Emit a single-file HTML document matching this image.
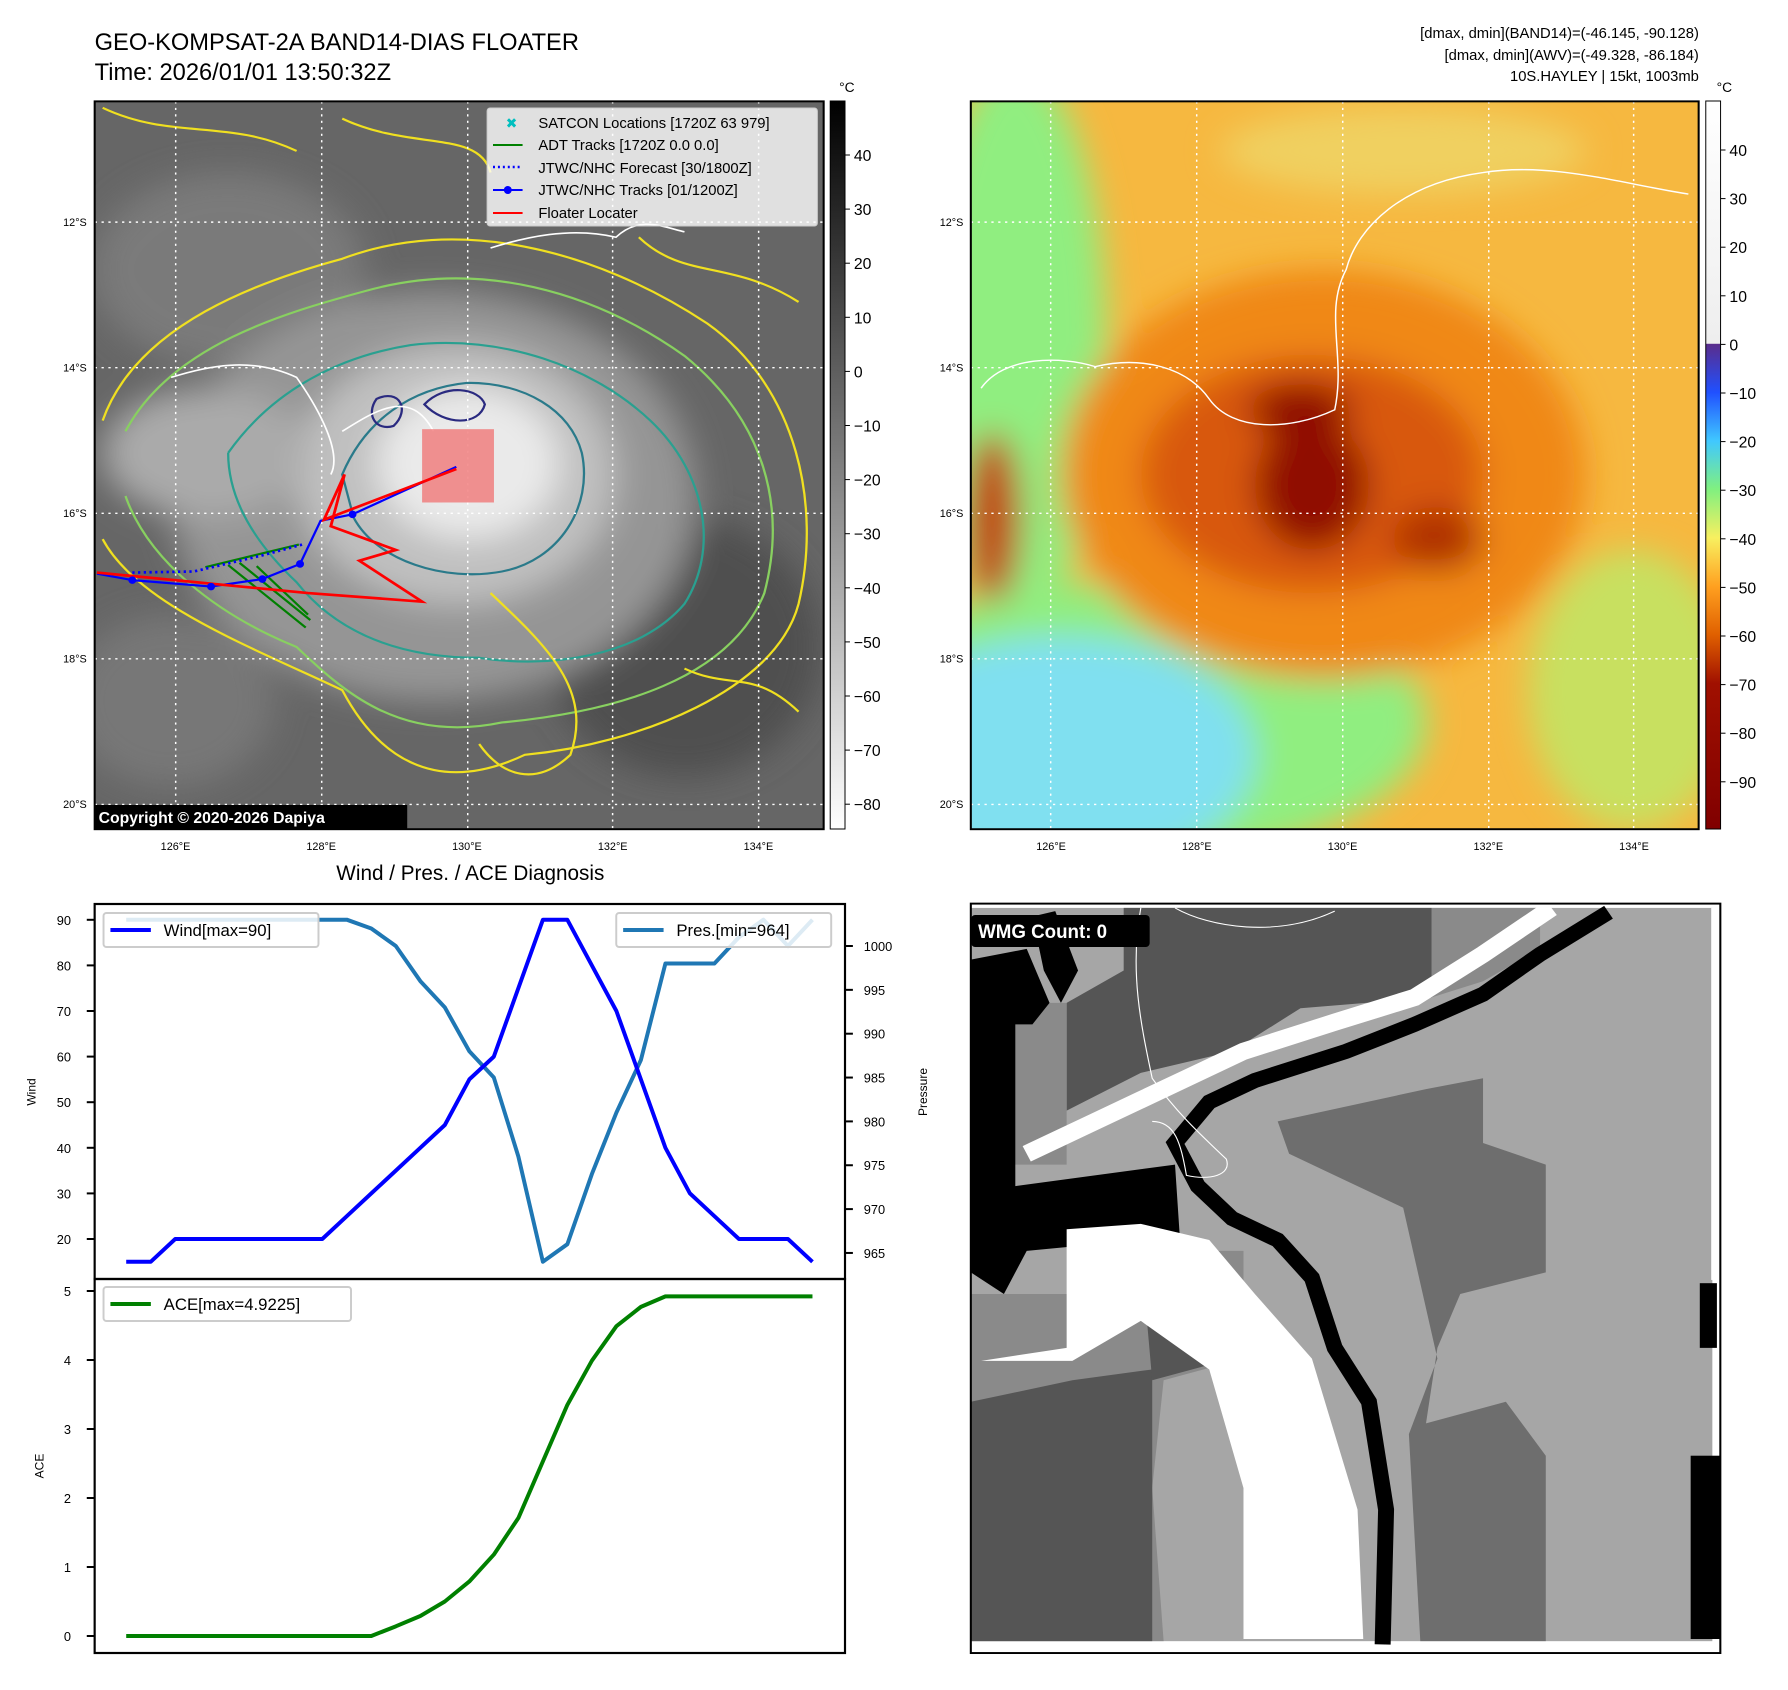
<!DOCTYPE html>
<html><head><meta charset="utf-8"><style>
html,body{margin:0;padding:0;background:#fff;}
svg{display:block;font-family:"Liberation Sans","DejaVu Sans",sans-serif;}
</style></head><body>
<svg id="fig" width="1788" height="1690" viewBox="0 0 1788 1690" xmlns="http://www.w3.org/2000/svg">
<defs>
<filter id="blur15"><feGaussianBlur stdDeviation="15"/></filter>
<clipPath id="clipL"><rect x="83" y="94" width="639" height="675"/></clipPath>
<clipPath id="clipR"><rect x="851" y="94" width="638" height="675"/></clipPath>
<clipPath id="clipB"><rect x="851" y="838" width="657" height="695"/></clipPath>
<linearGradient id="cb1" x1="0" y1="0" x2="0" y2="1"><stop offset="0" stop-color="#000"/><stop offset="1" stop-color="#fff"/></linearGradient>
<linearGradient id="cb2" x1="0" y1="0" x2="0" y2="1">
<stop offset="0" stop-color="#ffffff"/><stop offset="0.333" stop-color="#eeeeee"/>
<stop offset="0.334" stop-color="#5a2d8c"/><stop offset="0.4" stop-color="#2050ff"/>
<stop offset="0.467" stop-color="#40c8ff"/><stop offset="0.533" stop-color="#80f080"/>
<stop offset="0.6" stop-color="#f8f060"/><stop offset="0.667" stop-color="#ffa020"/>
<stop offset="0.733" stop-color="#e06000"/><stop offset="0.8" stop-color="#a01000"/>
<stop offset="1" stop-color="#800000"/></linearGradient>
</defs>
<g transform="scale(0.986,1)">
<g transform="matrix(1.157,0,0,1.0783,0,0)">
 <g clip-path="url(#clipL)">
  <rect x="83" y="94" width="639" height="675" fill="#666"/>
  <g filter="url(#blur15)">
   <ellipse cx="200" cy="250" rx="120" ry="90" fill="#7a7a7a"/>
   <ellipse cx="600" cy="600" rx="120" ry="120" fill="#505050"/>
   <ellipse cx="150" cy="650" rx="90" ry="80" fill="#777"/>
   <ellipse cx="380" cy="460" rx="230" ry="190" fill="#959595"/>
   <ellipse cx="400" cy="440" rx="140" ry="120" fill="#c0c0c0"/>
   <ellipse cx="410" cy="430" rx="80" ry="70" fill="#eaeaea"/>
   <ellipse cx="180" cy="420" rx="90" ry="60" fill="#aaa"/>
  </g>
  <g fill="none" stroke-width="2">
   <path d="M90 390 C120 300 230 260 300 240 C400 200 520 230 620 300 C700 360 720 470 700 560 C680 640 560 690 460 700 C380 740 330 700 300 640 C220 600 120 560 90 500" stroke="#f0e020"/>
   <path d="M110 400 C150 320 250 290 320 270 C420 240 520 270 600 330 C670 390 690 470 670 550 C640 630 540 660 440 670 C350 690 300 640 260 600 C190 570 130 520 110 460" stroke="#88d060"/>
   <path d="M200 420 C240 360 300 330 360 320 C440 310 520 340 570 390 C620 440 630 510 600 560 C560 610 480 620 420 610 C340 610 290 580 260 540 C220 500 200 460 200 420" stroke="#2aa090"/>
   <path d="M300 440 C320 390 360 360 410 355 C460 355 500 380 510 420 C520 470 490 520 440 530 C390 540 330 520 310 480 Z" stroke="#2a7a8a"/>
   <path d="M330 370 C350 360 360 380 345 395 C330 400 320 385 330 370 Z M372 375 C390 355 420 360 425 375 C420 395 390 395 372 375 Z" stroke="#2a2a80"/>
   <path d="M90 100 C150 130 200 110 260 140 M300 110 C360 140 420 120 430 160 M560 220 C600 260 640 240 700 280 M600 620 C640 640 660 620 700 660" stroke="#f0e020"/>
   <path d="M430 550 C480 600 520 640 500 700 C470 730 440 720 420 690" stroke="#f0e020"/>
  </g>
  <g stroke="#fff" stroke-width="1.5" fill="none">
   <path d="M150 350 C180 340 220 330 260 350 C280 380 300 420 290 440 M300 400 C330 380 360 360 380 400 M430 230 C460 220 500 210 540 220 C560 200 580 210 600 215"/>
  </g>
  <g stroke="#fff" stroke-width="1.3" stroke-dasharray="2,4">
   <line x1="83" y1="206" x2="722" y2="206"/><line x1="83" y1="341" x2="722" y2="341"/>
   <line x1="83" y1="476" x2="722" y2="476"/><line x1="83" y1="611" x2="722" y2="611"/>
   <line x1="83" y1="746" x2="722" y2="746"/>
   <line x1="154" y1="94" x2="154" y2="769"/><line x1="282" y1="94" x2="282" y2="769"/>
   <line x1="410" y1="94" x2="410" y2="769"/><line x1="537" y1="94" x2="537" y2="769"/>
   <line x1="665" y1="94" x2="665" y2="769"/>
  </g>
  <rect x="370" y="398" width="63" height="68" fill="#f07070" opacity="0.75"/>
  <g fill="none" stroke-width="2">
   <path d="M200,524 L268,582 M210,522 L272,575 M180,526 L262,505 M225,525 L270,570" stroke="#008000"/>
   <polyline points="116,531 170,530 230,515 265,505" stroke="#0000ff" stroke-dasharray="2,3" stroke-width="2.5"/>
   <polyline points="85,532 116,538 185,544 230,537 263,523 281,483 309,477 400,433" stroke="#0000ff"/>
   <polyline points="85,531 270,550 370,558 315,520 347,510 290,488 302,440 284,482 400,435" stroke="#ff0000" stroke-width="2.5"/>
  </g>
  <g fill="#0000ff"><circle cx="116" cy="538" r="3.5"/><circle cx="185" cy="544" r="3.5"/><circle cx="230" cy="537" r="3.5"/><circle cx="263" cy="523" r="3.5"/><circle cx="309" cy="477" r="3.5"/></g>
 </g>
 <rect x="83" y="94" width="639" height="675" fill="none" stroke="#000" stroke-width="1.8"/>

 <g clip-path="url(#clipR)">
  <rect x="851" y="94" width="638" height="675" fill="#f6b840"/>
  <g filter="url(#blur15)">
   <ellipse cx="890" cy="320" rx="80" ry="260" fill="#90ee80"/>
   <ellipse cx="1430" cy="640" rx="90" ry="130" fill="#c8e060"/>
   <ellipse cx="990" cy="670" rx="260" ry="130" fill="#90ee80"/>
   <ellipse cx="930" cy="700" rx="170" ry="110" fill="#80e0f0"/>
   <ellipse cx="1230" cy="140" rx="160" ry="40" fill="#f0d060"/>
   <ellipse cx="1160" cy="440" rx="230" ry="190" fill="#f08818"/>
   <ellipse cx="1150" cy="440" rx="150" ry="110" fill="#d85808"/>
   <ellipse cx="1150" cy="450" rx="50" ry="60" fill="#900800"/>
   <ellipse cx="1140" cy="380" rx="45" ry="25" fill="#900800"/>
   <ellipse cx="1260" cy="500" rx="40" ry="30" fill="#b03000"/>
   <ellipse cx="870" cy="480" rx="25" ry="80" fill="#c04000"/>
  </g>
  <g stroke="#fff" stroke-width="1.3" fill="none">
   <path d="M860 360 C880 330 930 330 960 340 C1000 330 1040 340 1060 370 C1080 400 1130 400 1170 380 C1180 330 1160 290 1180 250 C1190 210 1230 170 1300 160 C1360 150 1420 170 1480 180"/>
  </g>
  <g stroke="#fff" stroke-width="1.3" stroke-dasharray="2,4">
   <line x1="851" y1="206" x2="1489" y2="206"/><line x1="851" y1="341" x2="1489" y2="341"/>
   <line x1="851" y1="476" x2="1489" y2="476"/><line x1="851" y1="611" x2="1489" y2="611"/>
   <line x1="851" y1="746" x2="1489" y2="746"/>
   <line x1="921" y1="94" x2="921" y2="769"/><line x1="1049" y1="94" x2="1049" y2="769"/>
   <line x1="1177" y1="94" x2="1177" y2="769"/><line x1="1305" y1="94" x2="1305" y2="769"/>
   <line x1="1432" y1="94" x2="1432" y2="769"/>
  </g>
 </g>
 <rect x="851" y="94" width="638" height="675" fill="none" stroke="#000" stroke-width="1.8"/>

 <g clip-path="url(#clipB)">
  <rect x="851" y="838" width="657" height="695" fill="#fff"/>
  <rect x="851" y="842" width="650" height="680" fill="#a6a6a6"/>
  <polygon points="985,842 1255,842 1255,925 1140,935 1080,975 1000,995 935,1030 935,930 985,900" fill="#555"/>
  <polygon points="1255,842 1350,842 1350,880 1300,910 1255,925" fill="#8a8a8a"/>
  <polygon points="851,930 935,930 935,1080 851,1080" fill="#8a8a8a"/>
  <polygon points="1120,1040 1250,1010 1300,1000 1300,1060 1355,1080 1355,1180 1280,1200 1260,1250 1250,1320 1320,1300 1355,1350 1355,1522 1245,1522 1235,1330 1260,1260 1230,1120 1170,1090 1130,1070" fill="#6e6e6e"/>
  <polygon points="851,1200 1000,1200 1000,1160 1090,1160 1090,1260 1020,1280 1010,1380 1020,1522 851,1522" fill="#8a8a8a"/>
  <polygon points="851,1300 940,1280 1010,1270 1010,1522 851,1522" fill="#555"/>
  <polygon points="1000,1160 1060,1160 1080,1260 1010,1280" fill="#555"/>
  <polyline points="1360,842 1300,885 1240,925 1170,948 1090,975 1040,1000 1000,1020 960,1040 900,1070" fill="none" stroke="#fff" stroke-width="16"/>
  <polyline points="1410,846 1350,885 1300,922 1240,950 1180,975 1100,1002 1060,1022 1030,1060 1050,1100 1080,1130 1120,1150 1150,1185 1170,1250 1200,1300 1215,1400 1212,1525" fill="none" stroke="#000" stroke-width="14"/>
  <polygon points="851,890 900,880 920,930 905,950 890,950 890,1100 1030,1080 1035,1160 1000,1150 900,1160 880,1200 851,1180" fill="#000"/>
  <polygon points="905,850 925,845 945,900 930,930 915,900" fill="#000"/>
  <polygon points="860,1262 935,1250 935,1140 1000,1135 1060,1150 1100,1200 1150,1260 1190,1400 1195,1520 1090,1520 1090,1380 1060,1270 1000,1225 940,1262" fill="#fff"/>
  <rect x="1490" y="1190" width="15" height="60" fill="#000"/>
  <rect x="1482" y="1350" width="26" height="170" fill="#000"/>
  <rect x="1500" y="842" width="8" height="345" fill="#fff"/>
  <path d="M1000 842 C990 900 1000 950 1010 1000 C1030 1030 1050 1050 1075 1075 C1080 1090 1060 1095 1040 1090 C1035 1060 1030 1040 1010 1040 M1030 842 C1060 860 1120 870 1170 845" stroke="#fff" stroke-width="1" fill="none"/>
 </g>
 <rect x="851" y="838" width="657" height="695" fill="none" stroke="#000" stroke-width="1.8"/>
</g>

<rect x="842" y="101" width="15" height="728" fill="url(#cb1)" stroke="#000" stroke-width="1"/>
<rect x="1730" y="101" width="15" height="728" fill="url(#cb2)" stroke="#000" stroke-width="1"/>
<g id="cbLabels" font-size="16" fill="#000"></g>
<text x="851" y="92" font-size="14">°C</text>
<text x="1741" y="92" font-size="14">°C</text>
<g id="mapLabels" font-size="11" fill="#000"></g>

<g>
 <rect x="494" y="108" width="335" height="118" rx="3" fill="#fff" fill-opacity="0.8" stroke="#ccc"/>
 <text x="513" y="128" font-size="14" fill="#00bfbf" font-weight="bold">✖</text>
 <line x1="500" y1="145" x2="530" y2="145" stroke="#008000" stroke-width="2"/>
 <line x1="500" y1="167" x2="530" y2="167" stroke="#0000ff" stroke-width="2.5" stroke-dasharray="2,3"/>
 <line x1="500" y1="190" x2="530" y2="190" stroke="#0000ff" stroke-width="2"/><circle cx="515" cy="190" r="4" fill="#0000ff"/>
 <line x1="500" y1="213" x2="530" y2="213" stroke="#ff0000" stroke-width="2"/>
 <g font-size="15"><text x="546" y="128">SATCON Locations [1720Z 63 979]</text>
 <text x="546" y="150">ADT Tracks [1720Z 0.0 0.0]</text>
 <text x="546" y="173">JTWC/NHC Forecast [30/1800Z]</text>
 <text x="546" y="195">JTWC/NHC Tracks [01/1200Z]</text>
 <text x="546" y="218">Floater Locater</text></g>
</g>
<rect x="96" y="805" width="317" height="24" fill="#000"/>
<text x="100" y="823" font-size="16" font-weight="bold" fill="#fff">Copyright © 2020-2026 Dapiya</text>

<text x="96" y="50" font-size="24">GEO-KOMPSAT-2A BAND14-DIAS FLOATER</text>
<text x="96" y="80" font-size="24">Time: 2026/01/01 13:50:32Z</text>
<g font-size="15" text-anchor="end">
<text x="1723" y="38">[dmax, dmin](BAND14)=(-46.145, -90.128)</text>
<text x="1723" y="60">[dmax, dmin](AWV)=(-49.328, -86.184)</text>
<text x="1723" y="81">10S.HAYLEY | 15kt, 1003mb</text></g>
<text x="477" y="880" font-size="21" text-anchor="middle">Wind / Pres. / ACE Diagnosis</text>

<rect x="985" y="915" width="181" height="32" rx="4" fill="#000"/>
<text x="992" y="938" font-size="19" font-weight="bold" fill="#fff">WMG Count: 0</text>

<g id="chart"></g>
<rect x="96" y="904" width="761" height="375" fill="none" stroke="#000" stroke-width="2.2"/>
<rect x="96" y="1279" width="761" height="374" fill="none" stroke="#000" stroke-width="2.2"/>
<text transform="translate(36,1092) rotate(-90)" font-size="12" text-anchor="middle">Wind</text>
<text transform="translate(940,1092) rotate(-90)" font-size="12" text-anchor="middle">Pressure</text>
<text transform="translate(44,1466) rotate(-90)" font-size="12" text-anchor="middle">ACE</text>
</g>
</svg>
<script>
const windVals=[15,15,20,20,20,20,20,20,20,25,30,35,40,45,55,60,75,90,90,80,70,55,40,30,25,20,20,20,15];
const presVals=[1003,1003,1003,1003,1003,1003,1003,1003,1003,1003,1002,1000,996,993,988,985,976,964,966,974,981,987,998,998,998,1001,1003,1000,1003];
const aceVals=[0,0,0,0,0,0,0,0,0,0,0,0.14,0.29,0.5,0.79,1.18,1.71,2.53,3.35,3.99,4.49,4.77,4.9225,4.9225,4.9225,4.9225,4.9225,4.9225,4.9225];
const windTicks=[20,30,40,50,60,70,80,90];
const presTicks=[965,970,975,980,985,990,995,1000];
const aceTicks=[0,1,2,3,4,5];
const cb1Ticks=[40,30,20,10,0,-10,-20,-30,-40,-50,-60,-70,-80];
const cb2Ticks=[40,30,20,10,0,-10,-20,-30,-40,-50,-60,-70,-80,-90];
const latLabels=["12°S","14°S","16°S","18°S","20°S"];
const lonLabels=["126°E","128°E","130°E","132°E","134°E"];

const NS="http://www.w3.org/2000/svg";
const chart=document.getElementById('chart');
function mk(tag,attrs,parent){const e=document.createElementNS(NS,tag);for(const k in attrs)e.setAttribute(k,attrs[k]);(parent||chart).appendChild(e);return e;}
const xS=i=>128+i*(824-128)/(windVals.length-1);
const yW=v=>1239-(v-20)*4.56;
const yP=v=>946+(1000-v)*8.77;
const yA=v=>1636-v*69;

function line(vals,yf,color,name){
  const p=mk('polyline',{points:vals.map((v,i)=>xS(i)+','+yf(v)).join(' '),fill:'none',stroke:color,'stroke-width':4,'stroke-linejoin':'round'});
  
  
}
line(presVals,yP,'#1f77b4','pressure-line');
line(windVals,yW,'#0000ff','wind-line');
line(aceVals,yA,'#008000','ace-line');

function tick(x1,x2,y,label,anchor,tx,name){
  mk('line',{x1:x1,x2:x2,y1:y,y2:y,stroke:'#000','stroke-width':2});
  const t=mk('text',{x:tx,y:y+5,'font-size':13,'text-anchor':anchor});
  t.textContent=label;
  
  
}
windTicks.forEach(v=>tick(88,96,yW(v),v,'end',72,'wind-tick-label'));
presTicks.forEach(v=>tick(857,865,yP(v),v,'start',876,'pressure-tick-label'));
aceTicks.forEach(v=>tick(88,96,yA(v),v,'end',72,'ace-tick-label'));

function legend(x,y,w,color,label,name){
  const g=mk('g',{});
  
  
  mk('rect',{x:x,y:y,width:w,height:34,rx:3,fill:'#fff','fill-opacity':0.85,stroke:'#ccc','stroke-width':2},g);
  mk('line',{x1:x+7,x2:x+48,y1:y+17,y2:y+17,stroke:color,'stroke-width':4},g);
  const t=mk('text',{x:x+61,y:y+23,'font-size':17},g);t.textContent=label;
}
legend(105,913,218,'#0000ff','Wind[max=90]','wind-legend');
legend(625,913,218,'#1f77b4','Pres.[min=964]','pressure-legend');
legend(105,1287,251,'#008000','ACE[max=4.9225]','ace-legend');

const cbg=document.getElementById('cbLabels');
cb1Ticks.forEach(v=>{const y=155+(40-v)*5.41;
  mk('line',{x1:857,x2:862,y1:y,y2:y,stroke:'#000'},cbg);
  const t=mk('text',{x:866,y:y+6},cbg);t.textContent=String(v).replace('-','\u2212');
  
  });
cb2Ticks.forEach(v=>{const y=150+(40-v)*4.86;
  mk('line',{x1:1745,x2:1750,y1:y,y2:y,stroke:'#000'},cbg);
  const t=mk('text',{x:1754,y:y+6},cbg);t.textContent=String(v).replace('-','\u2212');
  
  });

const ml=document.getElementById('mapLabels');
latLabels.forEach((l,i)=>{const y=222+i*145.5+4;
  [88,977].forEach(x=>{const t=mk('text',{x:x,y:y,'text-anchor':'end'},ml);t.textContent=l;
  
  });});
lonLabels.forEach((l,i)=>{
  [178,1066].forEach(x0=>{const t=mk('text',{x:x0+i*147.8,y:850,'text-anchor':'middle'},ml);t.textContent=l;
  
  });});
</script>
</body></html>
